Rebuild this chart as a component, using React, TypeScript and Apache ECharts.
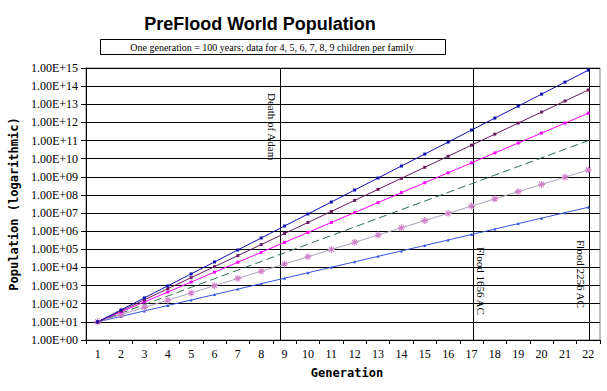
import React, { useEffect, useRef } from "react";
import * as echarts from "echarts";

const generations = ["1","2","3","4","5","6","7","8","9","10","11","12","13","14","15","16","17","18","19","20","21","22"];

const yTickLabels = ["1.00E+00","1.00E+01","1.00E+02","1.00E+03","1.00E+04","1.00E+05","1.00E+06","1.00E+07","1.00E+08","1.00E+09","1.00E+10","1.00E+11","1.00E+12","1.00E+13","1.00E+14","1.00E+15"];

const nine = [1.0e1,4.58e1,2.10e2,9.62e2,4.41e3,2.02e4,9.25e4,4.24e5,1.94e6,8.89e6,4.07e7,1.87e8,8.55e8,3.92e9,1.79e10,8.22e10,3.77e11,1.73e12,7.91e12,3.62e13,1.66e14,7.60e14];
const eight = [1.0e1,4.06e1,1.65e2,6.71e2,2.73e3,1.11e4,4.51e4,1.83e5,7.45e5,3.03e6,1.23e7,5.00e7,2.03e8,8.26e8,3.36e9,1.36e10,5.55e10,2.25e11,9.16e11,3.72e12,1.51e13,6.15e13];
const seven = [1.0e1,3.53e1,1.25e2,4.41e2,1.56e3,5.50e3,1.94e4,6.85e4,2.42e5,8.55e5,3.02e6,1.07e7,3.77e7,1.33e8,4.70e8,1.66e9,5.86e9,2.07e10,7.31e10,2.58e11,9.12e11,3.22e12];
const six = [1.0e1,2.99e1,8.95e1,2.68e2,8.02e2,2.40e3,7.18e3,2.15e4,6.43e4,1.92e5,5.75e5,1.72e6,5.15e6,1.54e7,4.61e7,1.38e8,4.13e8,1.24e9,3.70e9,1.11e10,3.31e10,9.91e10];
const five = [1.0e1,2.51e1,6.28e1,1.57e2,3.94e2,9.89e2,2.48e3,6.21e3,1.56e4,3.90e4,9.77e4,2.45e5,6.14e5,1.54e6,3.85e6,9.66e6,2.42e7,6.07e7,1.52e8,3.81e8,9.55e8,2.39e9];
const four = [10,20,40,80,160,320,640,1280,2560,5120,10240,20480,40960,81920,163840,327680,655360,1310720,2621440,5242880,10485760,20971520];

// annotation events: generation position and label
const eventGens = [8.82, 17.08, 22.03];
const eventLabels = ["Death of Adam", "Flood 1656 AC", "Flood 2256 AC"];
// layout of annotation labels: side (-1 left, 1 right) and offset from top in px
const eventSide = [-1, 1, -1];
const eventOffset = [25, 179, 172];

const ASTERISK = "path://M4,0L4,8M0,4L8,4M1.2,1.2L6.8,6.8M6.8,1.2L1.2,6.8";

export default function App() {
  const ref = useRef<HTMLDivElement>(null);
  useEffect(() => {
    if (!ref.current) return;
    const chart = echarts.init(ref.current, undefined, { renderer: "svg" });
    const mk = (name: string, data: number[], color: string, symbol: string, size: number, extra: any = {}) => ({
      name,
      type: "line",
      data,
      symbol,
      symbolSize: size,
      showAllSymbol: true,
      lineStyle: { color, width: 1, ...(extra.lineStyle || {}) },
      itemStyle: extra.itemStyle || { color },
      emphasis: { disabled: true },
      z: 3,
    });
    chart.setOption({
      animation: false,
      backgroundColor: "#ffffff",
      graphic: [
        {
          type: "text",
          x: 260,
          y: 24,
          style: {
            text: "PreFlood World Population",
            font: 'bold 18px "Liberation Sans", Arial, sans-serif',
            fill: "#000",
            textAlign: "center",
            textVerticalAlign: "middle",
          },
        },
        {
          type: "rect",
          shape: { x: 100.5, y: 39.5, width: 345, height: 15 },
          style: { fill: "#fff", stroke: "#000", lineWidth: 1 },
        },
        {
          type: "text",
          x: 272,
          y: 47,
          style: {
            text: "One generation = 100 years; data for 4, 5, 6, 7, 8, 9 children per family",
            font: '10px "Liberation Serif", serif',
            fill: "#000",
            textAlign: "center",
            textVerticalAlign: "middle",
          },
        },
      ],
      grid: {
        left: 82,
        right: 7,
        top: 68,
        bottom: 51,
        show: true,
        borderColor: "#808080",
        borderWidth: 1,
        backgroundColor: "transparent",
      },
      xAxis: [
        {
          type: "category",
          data: generations,
          boundaryGap: true,
          name: "Generation",
          nameLocation: "middle",
          nameGap: 27,
          nameTextStyle: {
            fontFamily: '"DejaVu Sans Mono", monospace',
            fontWeight: "bold",
            fontSize: 12,
            color: "#000",
            padding: [0, 0, 0, 8],
          },
          axisLine: { lineStyle: { color: "#000", width: 1 } },
          axisTick: { show: true, length: 4, lineStyle: { color: "#000" } },
          axisLabel: {
            fontFamily: '"Liberation Serif", serif',
            fontSize: 12,
            color: "#000",
            margin: 8,
            interval: 0,
          },
          splitLine: { show: false },
        },
        {
          type: "value",
          min: 0.5,
          max: 22.5,
          show: false,
        },
      ],
      yAxis: {
        type: "log",
        logBase: 10,
        min: 1,
        max: 1e15,
        interval: 1,
        name: "Population (logarithmic)",
        nameLocation: "middle",
        nameGap: 61,
        nameTextStyle: {
          fontFamily: '"DejaVu Sans Mono", monospace',
          fontWeight: "bold",
          fontSize: 12,
          color: "#000",
        },
        axisLine: { show: true, lineStyle: { color: "#000", width: 1 } },
        axisTick: { show: true, length: 5, lineStyle: { color: "#000" } },
        axisLabel: {
          fontFamily: '"Liberation Serif", serif',
          fontSize: 12,
          color: "#000",
          margin: 8,
          formatter: (v: number) => yTickLabels[Math.round(Math.log10(v))],
        },
        splitLine: { show: true, lineStyle: { color: "#000", width: 1 } },
        minorTick: { show: false },
      },
      series: [
        mk("4 children", four, "#3355dd", "triangle", 3),
        mk("5 children", five, "#b0a0c0", ASTERISK, 7, {
          itemStyle: { color: "transparent", borderColor: "#d080c8", borderWidth: 1.1 },
        }),
        mk("6 children", six, "#2f6a50", "none", 0, { lineStyle: { type: [8, 4] } }),
        mk("7 children", seven, "#ff00ff", "rect", 3),
        mk("8 children", eight, "#6a1a60", "rect", 3),
        mk("9 children", nine, "#1010b0", "rect", 3),
        {
          type: "custom",
          xAxisIndex: 1,
          yAxisIndex: 0,
          z: 2,
          data: eventGens.map((g, i) => [g, i]),
          renderItem: (params: any, api: any) => {
            const g = api.value(0);
            const i = api.value(1);
            const top = api.coord([g, 1e15]);
            const bot = api.coord([g, 1]);
            const side = eventSide[i];
            return {
              type: "group",
              children: [
                {
                  type: "line",
                  shape: { x1: Math.round(top[0]) + 0.5, y1: top[1], x2: Math.round(top[0]) + 0.5, y2: bot[1] },
                  style: { stroke: "#000", lineWidth: 1 },
                },
                {
                  type: "text",
                  x: top[0] + side * 8,
                  y: top[1] + eventOffset[i],
                  rotation: -Math.PI / 2,
                  style: {
                    text: eventLabels[i],
                    font: '11px "Liberation Serif", serif',
                    fill: "#000",
                    textAlign: "left",
                    textVerticalAlign: "middle",
                  },
                },
              ],
            };
          },
        },
      ],
    });
    return () => chart.dispose();
  }, []);
  return <div ref={ref} style={{ width: 607, height: 391, position: "absolute", left: 0, top: 0 }} />;
}
